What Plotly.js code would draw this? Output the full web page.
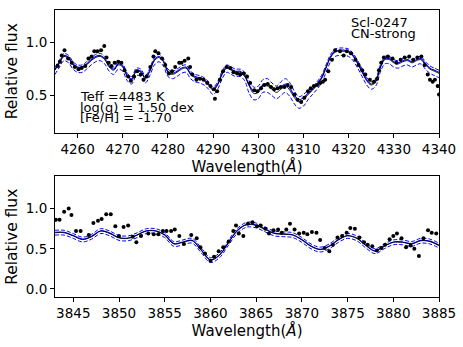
<!DOCTYPE html>
<html>
<head>
<meta charset="utf-8">
<script src="https://cdn.plot.ly/plotly-3.0.1.min.js"></script>
<style>
  html, body { margin: 0; padding: 0; background: #fff; }
  #graphArea { width: 463px; height: 347px; }
</style>
</head>
<body>
<div id="graphArea"></div>
<script>
// ---- top panel: 4255-4340 A ----
var wlTop = [4255,4256,4257,4258,4259,4260,4261,4262,4263,4264,4265,4266,4267,4268,4269,
  4270,4271,4272,4273,4274,4275,4276,4277,4278,4279,4280,4281,4282,4283,4284,
  4285,4286,4287,4288,4289,4290,4291,4292,4293,4294,4295,4296,4297,4298,4299,
  4300,4301,4302,4303,4304,4305,4306,4307,4308,4309,4310,4311,4312,4313,4314,
  4315,4316,4317,4318,4319,4320,4321,4322,4323,4324,4325,4326,4327,4328,4329,
  4330,4331,4332,4333,4334,4335,4336,4337,4338,4339,4340];

var modelTop = [0.74,0.81,0.87,0.85,0.79, 0.76,0.76,0.79,0.83,0.86, 0.87,0.84,0.77,0.74,0.79,
  0.77,0.68,0.65,0.73,0.72, 0.66,0.73,0.83,0.86,0.82, 0.72,0.70,0.72,0.75,0.76,
  0.70,0.67,0.66,0.64,0.60, 0.55,0.60,0.70,0.76,0.74, 0.72,0.72,0.68,0.59,0.52,
  0.53,0.59,0.59,0.56,0.53, 0.56,0.59,0.55,0.48,0.44, 0.46,0.51,0.55,0.60,0.66,
  0.76,0.86,0.91,0.92,0.92, 0.91,0.87,0.80,0.72,0.64, 0.60,0.63,0.76,0.84,0.84,
  0.81,0.80,0.82,0.83,0.81, 0.83,0.84,0.79,0.75,0.73, 0.71];

var fitTop = [0.75,0.82,0.88,0.86,0.80, 0.77,0.77,0.80,0.84,0.87, 0.88,0.85,0.78,0.75,0.80,
  0.78,0.69,0.66,0.74,0.73, 0.67,0.74,0.84,0.87,0.83, 0.73,0.71,0.73,0.76,0.77,
  0.71,0.68,0.67,0.65,0.61, 0.56,0.61,0.71,0.77,0.75, 0.73,0.73,0.69,0.60,0.54,
  0.55,0.60,0.61,0.58,0.56, 0.58,0.61,0.57,0.50,0.46, 0.48,0.52,0.56,0.61,0.67,
  0.77,0.87,0.92,0.93,0.93, 0.92,0.88,0.81,0.73,0.65, 0.61,0.64,0.77,0.85,0.85,
  0.82,0.81,0.83,0.84,0.82, 0.84,0.85,0.80,0.76,0.74, 0.72];

var upperTop = [0.77,0.84,0.90,0.88,0.82, 0.79,0.79,0.82,0.86,0.89, 0.90,0.87,0.80,0.77,0.82,
  0.80,0.71,0.68,0.76,0.75, 0.69,0.76,0.86,0.89,0.85, 0.75,0.73,0.75,0.78,0.79,
  0.73,0.70,0.69,0.67,0.63, 0.58,0.63,0.73,0.79,0.77, 0.75,0.75,0.72,0.64,0.58,
  0.59,0.65,0.66,0.62,0.59, 0.63,0.66,0.62,0.54,0.49, 0.51,0.55,0.58,0.63,0.69,
  0.79,0.89,0.94,0.95,0.95, 0.94,0.90,0.83,0.75,0.67, 0.63,0.66,0.79,0.87,0.87,
  0.84,0.83,0.85,0.86,0.84, 0.86,0.87,0.82,0.78,0.76, 0.74];

var lowerTop = [0.70,0.77,0.83,0.81,0.75, 0.72,0.72,0.75,0.79,0.82, 0.83,0.80,0.73,0.70,0.75,
  0.73,0.64,0.61,0.69,0.68, 0.62,0.69,0.79,0.82,0.78, 0.68,0.66,0.68,0.71,0.72,
  0.66,0.63,0.62,0.60,0.56, 0.51,0.56,0.66,0.72,0.70, 0.68,0.68,0.64,0.52,0.46,
  0.47,0.53,0.53,0.50,0.47, 0.50,0.53,0.49,0.42,0.38, 0.40,0.46,0.51,0.56,0.62,
  0.72,0.82,0.87,0.88,0.88, 0.87,0.83,0.76,0.68,0.60, 0.56,0.59,0.72,0.80,0.80,
  0.77,0.76,0.78,0.79,0.77, 0.79,0.80,0.75,0.71,0.69, 0.67];

var obsTopX = [4255.6,4256.1,4256.5,4257.1,4257.9,4258.7,4259.4,4260.2,4260.9,4261.7,4262.4,4263.1,
  4263.7,4264.4,4265.2,4265.9,4266.4,4266.9,4267.5,4268.2,4269.0,4269.7,4270.4,4271.2,4271.8,
  4272.5,4273.2,4274.0,4274.6,4275.3,4276.1,4276.8,4277.2,4277.9,4278.7,4279.4,4280.2,4280.9,
  4281.6,4282.5,4283.0,4283.7,4284.5,4284.9,4285.4,4286.3,4287.1,4287.9,4288.7,4289.4,4290.2,
  4290.4,4290.9,4291.5,4292.2,4293.0,4293.8,4294.5,4295.3,4296.0,4296.8,4297.5,4298.2,4299.1,
  4299.8,4300.6,4301.3,4302.1,4302.8,4303.5,4304.3,4305.0,4305.8,4306.5,4307.3,4308.0,4308.7,
  4309.5,4310.2,4311.0,4311.6,4312.3,4313.0,4313.7,4314.3,4314.8,4315.5,4316.3,4317.0,4318.1,
  4318.9,4319.6,4320.5,4321.5,4322.2,4323.0,4323.7,4324.7,4325.6,4326.3,4326.7,4327.2,4327.8,
  4328.7,4329.7,4330.6,4331.5,4332.4,4333.4,4334.3,4335.2,4336.1,4336.8,4337.5,4338.0,4338.6,
  4339.1,4339.7,4340.0];
var obsTopY = [0.78,0.82,0.88,0.93,0.85,0.81,0.77,0.75,0.76,0.78,0.85,0.87,
  0.92,0.92,0.93,0.97,0.86,0.81,0.78,0.81,0.82,0.81,0.74,0.68,0.64,
  0.68,0.73,0.70,0.65,0.68,0.77,0.87,0.92,0.90,0.85,0.79,0.71,0.73,
  0.77,0.81,0.81,0.83,0.85,0.77,0.70,0.65,0.66,0.65,0.62,0.59,0.56,
  0.47,0.54,0.65,0.73,0.77,0.76,0.72,0.71,0.70,0.71,0.68,0.62,0.55,
  0.54,0.57,0.60,0.61,0.58,0.56,0.57,0.58,0.58,0.60,0.58,0.51,0.46,
  0.44,0.48,0.54,0.57,0.59,0.60,0.62,0.63,0.65,0.73,0.84,0.93,0.92,
  0.88,0.92,0.90,0.84,0.79,0.74,0.70,0.65,0.63,0.66,0.74,0.81,0.86,
  0.87,0.85,0.81,0.84,0.86,0.87,0.84,0.86,0.87,0.79,0.70,0.65,0.63,
  0.65,0.59,0.51];

// ---- bottom panel: 3843-3885 A ----
var wlBot = [3843,3844,3845,3846,3847,3848,3849,3850,3851,3852,3853,3854,3855,3856,3857,
  3858,3859,3860,3861,3862,3863,3864,3865,3866,3867,3868,3869,3870,3871,3872,
  3873,3874,3875,3876,3877,3878,3879,3880,3881,3882,3883,3884,3885];

var modelBot = [0.70,0.70,0.66,0.615,0.65, 0.72,0.69,0.635,0.63,0.67, 0.72,0.72,0.67,0.56,0.58,
  0.60,0.48,0.36,0.42,0.58, 0.73,0.80,0.79,0.74,0.69, 0.68,0.67,0.61,0.53,0.49,
  0.53,0.61,0.66,0.63,0.54, 0.47,0.53,0.58,0.58,0.56, 0.60,0.59,0.54];

var fitBot = [0.705,0.705,0.665,0.62,0.655, 0.725,0.695,0.64,0.635,0.675, 0.725,0.725,0.675,0.565,0.585,
  0.605,0.485,0.365,0.425,0.585, 0.735,0.805,0.795,0.745,0.695, 0.685,0.675,0.615,0.535,0.495,
  0.535,0.615,0.665,0.635,0.545, 0.475,0.535,0.585,0.585,0.565, 0.605,0.595,0.545];

var upperBot = [0.73,0.73,0.69,0.645,0.68, 0.75,0.72,0.665,0.66,0.70, 0.75,0.75,0.70,0.59,0.61,
  0.63,0.51,0.39,0.45,0.61, 0.76,0.83,0.82,0.77,0.72, 0.71,0.70,0.64,0.56,0.52,
  0.56,0.64,0.69,0.66,0.57, 0.50,0.56,0.61,0.61,0.59, 0.63,0.62,0.57];

var lowerBot = [0.67,0.67,0.63,0.585,0.62, 0.69,0.66,0.605,0.60,0.64, 0.69,0.69,0.64,0.53,0.55,
  0.57,0.45,0.33,0.39,0.55, 0.70,0.77,0.76,0.71,0.66, 0.65,0.64,0.58,0.50,0.46,
  0.50,0.58,0.63,0.60,0.51, 0.44,0.50,0.55,0.55,0.53, 0.57,0.56,0.51];

var obsBotX = [3843.1,3843.5,3844.0,3844.5,3844.8,3845.3,3845.8,3846.7,3847.2,3847.7,3848.1,3848.6,
  3849.1,3849.6,3850.0,3850.5,3851.0,3851.5,3851.9,3852.4,3853.2,3853.8,3854.3,3854.8,3855.2,
  3855.7,3856.1,3856.6,3857.1,3857.9,3858.5,3858.9,3859.4,3860.0,3860.4,3860.9,3861.4,3862.0,
  3862.5,3862.8,3863.1,3863.6,3864.1,3864.6,3865.1,3865.5,3866.0,3866.4,3866.9,3867.4,3867.8,
  3868.3,3868.7,3869.2,3869.7,3870.2,3870.6,3871.1,3871.6,3872.0,3872.5,3873.0,3873.4,3873.9,
  3874.4,3874.9,3875.3,3875.8,3876.3,3876.8,3877.2,3877.7,3878.2,3878.7,3879.1,3879.6,3880.0,
  3880.4,3880.9,3881.4,3881.9,3882.3,3882.8,3883.3,3883.8,3884.2,3884.7];
var obsBotY = [0.86,0.86,0.96,1.00,0.92,0.72,0.72,0.67,0.82,0.85,0.87,0.93,
  0.93,0.78,0.66,0.77,0.79,0.65,0.58,0.66,0.69,0.68,0.68,0.72,0.72,
  0.72,0.74,0.66,0.56,0.67,0.63,0.52,0.44,0.35,0.40,0.47,0.52,0.59,
  0.72,0.79,0.69,0.66,0.81,0.83,0.78,0.79,0.75,0.69,0.73,0.74,0.70,
  0.74,0.81,0.74,0.69,0.70,0.68,0.71,0.70,0.61,0.51,0.47,0.55,0.64,
  0.66,0.70,0.76,0.75,0.64,0.58,0.55,0.53,0.48,0.51,0.55,0.62,0.66,
  0.69,0.63,0.52,0.54,0.50,0.41,0.63,0.73,0.70,0.69];

var font = "DejaVu Sans";

function panelTraces(wl, upper, lower, fit, model, ox, oy, xa, ya) {
  return [
    {x: wl, y: upper, xaxis: xa, yaxis: ya, mode: "lines", line: {color: "blue", width: 1, dash: "4px,2px", shape: "spline"}},
    {x: wl, y: lower, xaxis: xa, yaxis: ya, mode: "lines", line: {color: "blue", width: 1, dash: "4px,2px", shape: "spline"}},
    {x: wl, y: fit, xaxis: xa, yaxis: ya, mode: "lines", line: {color: "blue", width: 1.1, shape: "spline"}},
    {x: wl, y: model, xaxis: xa, yaxis: ya, mode: "lines", line: {color: "black", width: 0.9, shape: "spline"}},
    {x: ox, y: oy, xaxis: xa, yaxis: ya, mode: "markers", marker: {color: "black", size: 4}}
  ];
}

var data = panelTraces(wlTop, upperTop, lowerTop, fitTop, modelTop, obsTopX, obsTopY, "x", "y")
  .concat(panelTraces(wlBot, upperBot, lowerBot, fitBot, modelBot, obsBotX, obsBotY, "x2", "y2"));

var axisBase = {
  showline: true, mirror: true, linecolor: "black", linewidth: 1,
  ticks: "outside", ticklen: 4, tickcolor: "black",
  showgrid: false, zeroline: false, automargin: false,
  tickfont: {family: font, size: 13.5, color: "black"}
};

function ax(extra) { return Object.assign({}, axisBase, extra); }

var xTitle = {text: "Wavelength(<i>Å</i>)", font: {family: font, size: 15, color: "black"}, standoff: 5};
var yTitle = {text: "Relative flux", font: {family: font, size: 15.5, color: "black"}, standoff: 4};
var noteFont = {family: font, size: 13, color: "black"};

var layout = {
  width: 463, height: 347,
  margin: {l: 55, r: 24, t: 10, b: 50},
  paper_bgcolor: "white", plot_bgcolor: "white",
  showlegend: false,
  font: {family: font},
  xaxis: ax({domain: [0, 1], range: [4255, 4340], dtick: 10, tick0: 4260, anchor: "y", title: xTitle}),
  yaxis: ax({domain: [0.573, 1], range: [0.15, 1.31], tickvals: [0.5, 1.0], ticktext: ["0.5", "1.0"], anchor: "x", title: yTitle}),
  xaxis2: ax({domain: [0, 1], range: [3843, 3885], dtick: 5, tick0: 3845, anchor: "y2", title: xTitle}),
  yaxis2: ax({domain: [0, 0.42], range: [-0.1, 1.4], tickvals: [0, 0.5, 1.0], ticktext: ["0.0", "0.5", "1.0"], anchor: "x2", title: yTitle}),
  annotations: [
    {xref: "x domain", yref: "y domain", x: 0.766, y: 0.898, xanchor: "left", yanchor: "middle",
     text: "Scl-0247", showarrow: false, font: noteFont},
    {xref: "x domain", yref: "y domain", x: 0.766, y: 0.809, xanchor: "left", yanchor: "middle",
     text: "CN-strong", showarrow: false, font: noteFont},
    {xref: "x domain", yref: "y domain", x: 0.06, y: 0.296, xanchor: "left", yanchor: "middle",
     text: "Teff =4483 K", showarrow: false, font: noteFont},
    {xref: "x domain", yref: "y domain", x: 0.06, y: 0.201, xanchor: "left", yanchor: "middle",
     text: "log(g) = 1.50 dex", showarrow: false, font: noteFont},
    {xref: "x domain", yref: "y domain", x: 0.06, y: 0.122, xanchor: "left", yanchor: "middle",
     text: "[Fe/H] = -1.70", showarrow: false, font: noteFont}
  ]
};

Plotly.newPlot("graphArea", data, layout, {staticPlot: true, displayModeBar: false});
</script>
</body>
</html>
